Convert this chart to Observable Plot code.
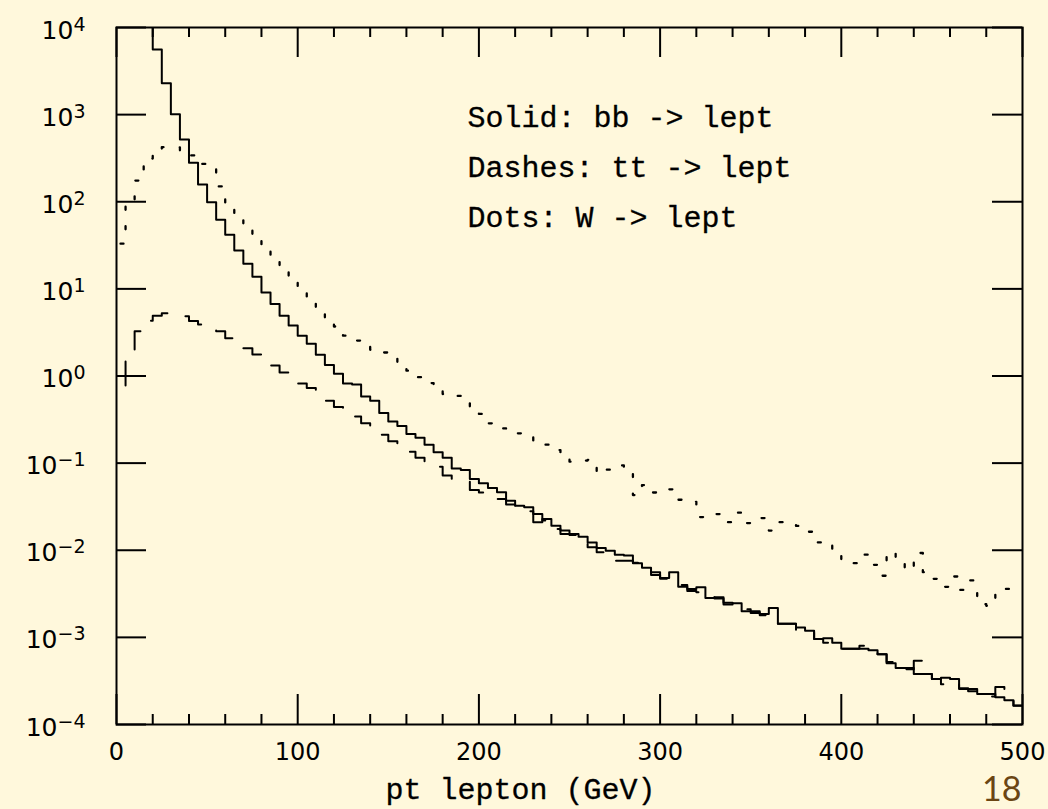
<!DOCTYPE html>
<html><head><meta charset="utf-8">
<script src="https://cdn.jsdelivr.net/npm/d3@7"></script>
<script src="https://cdn.jsdelivr.net/npm/@observablehq/plot@0.6"></script>
<style>
html,body{margin:0;padding:0;background:#fff8dc;}
svg{display:block;}
</style></head><body><div id="chart"></div>
<script>
// ---- data (5 GeV bins) ----
const binWidth = 5;

// Solid: bb -> lept (first bin is off scale, above 1e4)
const bbStart = 15;
const bbValues = [30000,5590,2290,1010,518,280,158,99,62,41.7,27.5,19.4,13.8,9.1,6.7,4.9,3.8,2.9,2.34,1.75,1.34,1.06,0.82,0.80,0.58,0.52,0.377,0.30,0.267,0.216,0.195,0.162,0.133,0.115,0.087,0.0835,0.0658,0.0586,0.0519,0.0462,0.0371,0.0325,0.0311,0.0209,0.0229,0.0191,0.0168,0.0154,0.0143,0.0123,0.0106,0.0099,0.0089,0.0087,0.0071,0.0063,0.0056,0.0048,0.0056,0.0038,0.0036,0.00376,0.00284,0.00288,0.00238,0.00246,0.0020,0.0020,0.00186,0.00217,0.00143,0.00143,0.0013,0.00119,0.00096,0.00098,0.00087,0.00074,0.00074,0.00074,0.00071,0.00064,0.000504,0.000446,0.000446,0.00038,0.00038,0.000333,0.000345,0.000333,0.000256,0.000256,0.000224,0.000224,0.000205,0.00019,0.000164];

// Dashes: tt -> lept (histogram starts at 5 GeV from a low edge value)
const ttStart = 5;
const ttLead = 0.78;
const ttValues = [2.0,3.26,4.3,4.9,5.25,5.2,4.85,4.27,3.9,3.55,3.26,2.71,2.4,2.08,1.76,1.5,1.32,1.10,0.95,0.82,0.73,0.62,0.52,0.44,0.39,0.342,0.286,0.25,0.211,0.178,0.155,0.135,0.115,0.10,0.091,0.072,0.066,0.061,0.049,0.046,0.042,0.0388,0.0334,0.030,0.028,0.026,0.022,0.0175,0.0154,0.015,0.0135,0.0108,0.0095,0.0092,0.0076,0.0076,0.0072,0.0062,0.0052,0.0047,0.0043,0.0040,0.0034,0.0033,0.0030,0.0028,0.0025,0.0024,0.0021,0.0019,0.0018,0.00158,0.00143,0.00143,0.00119,0.00119,0.00096,0.00087,0.00087,0.00074,0.00074,0.0008,0.0008,0.00064,0.00052,0.000446,0.00043,0.00054,0.00038,0.000333,0.00029,0.00031,0.00026,0.00024,0.000224,0.00021,0.00027,0.00019,0.000165];

// Dots: W -> lept
const wStart = 0;
const wValues = [33,103,175,313,398,423,420,380,340,272,235,150,86,64,48,36,27.5,21,15.8,12,9.1,7.1,5.7,4.6,3.7,2.9,2.55,2.24,2.0,1.86,1.58,1.32,1.15,0.97,0.83,0.71,0.62,0.59,0.49,0.43,0.367,0.286,0.25,0.22,0.22,0.20,0.166,0.163,0.141,0.128,0.104,0.107,0.109,0.076,0.084,0.094,0.089,0.043,0.056,0.046,0.05,0.05,0.038,0.036,0.024,0.025,0.026,0.021,0.027,0.0205,0.0234,0.0234,0.0168,0.021,0.020,0.019,0.0163,0.0123,0.0126,0.0102,0.0072,0.0071,0.0089,0.0068,0.0051,0.0096,0.0071,0.0059,0.0093,0.0056,0.0047,0.0038,0.005,0.0035,0.0045,0.0024,0.0023,0.0035,0.0036,0.0037];

// ticks and labels
const xMajor = [0,100,200,300,400,500];
const xMinor = [20,40,60,80,120,140,160,180,220,240,260,280,320,340,360,380,420,440,460,480];
const yDecades = [1e-4,1e-3,1e-2,1e-1,1,1e1,1e2,1e3,1e4];
const yExponents = ["\u22124","\u22123","\u22122","\u22121","0","1","2","3","4"];
const legendLines = ["Solid: bb -> lept","Dashes: tt -> lept","Dots: W -> lept"];
const xLabel = "pt lepton (GeV)";
const pageNumber = "18";

// ---- build step paths from bins ----
function steps(start, values, lead) {
  const pts = [];
  if (lead != null) pts.push({x: start, y: lead});
  values.forEach((v, i) => {
    const lo = start + i * binWidth;
    pts.push({x: lo, y: v}, {x: lo + binWidth, y: v});
  });
  return pts;
}
const bb = steps(bbStart, bbValues);
const tt = steps(ttStart, ttValues, ttLead);
const ww = steps(wStart, wValues);

const W = 1048, H = 809, ML = 116, MR = 26, MT = 27, MB = 85;
const FW = W - ML - MR, FH = H - MT - MB;
const major = 30, minor = 10;
const mono = "'Liberation Mono', 'Courier New', monospace";

const chart = Plot.plot({
  width: W, height: H,
  marginLeft: ML, marginRight: MR, marginTop: MT, marginBottom: MB,
  style: {background: "#fff8dc", color: "black", fontFamily: "'DejaVu Sans', sans-serif"},
  x: {domain: [0, 500], label: null},
  y: {type: "log", domain: [1e-4, 1e4], label: null},
  marks: [
    Plot.line(bb, {x: "x", y: "y", stroke: "black", strokeWidth: 2, clip: true}),
    Plot.line(tt, {x: "x", y: "y", stroke: "black", strokeWidth: 2, strokeDasharray: "24,21", clip: true}),
    Plot.line(ww, {x: "x", y: "y", stroke: "black", strokeWidth: 2.3, strokeDasharray: "3,16.5", strokeDashoffset: 15.5, clip: true}),
    // inward ticks
    Plot.tickY(yDecades, {y: d => d, insetRight: FW - major, strokeWidth: 2}),
    Plot.tickY(yDecades, {y: d => d, insetLeft: FW - major, strokeWidth: 2}),
    Plot.tickX(xMajor, {x: d => d, insetTop: FH - major, strokeWidth: 2}),
    Plot.tickX(xMajor, {x: d => d, insetBottom: FH - major, strokeWidth: 2}),
    Plot.tickX(xMinor, {x: d => d, insetTop: FH - minor, strokeWidth: 2}),
    Plot.tickX(xMinor, {x: d => d, insetBottom: FH - minor, strokeWidth: 2}),
    Plot.frame({stroke: "black", strokeWidth: 2}),
    Plot.axisX(xMajor, {tickSize: 0, tickPadding: 18, fontSize: 24, tickFormat: d => String(d), label: null}),
    Plot.axisY(yDecades, {tickSize: 0, tickPadding: 31, fontSize: 25, dy: 3,
      tickFormat: d => "10^" + yExponents[yDecades.indexOf(d)], label: null}),
    Plot.text([legendLines.join("\n")], {
      frameAnchor: "top-left", text: d => d, dx: 351, dy: 63.7, lineAnchor: "top",
      textAnchor: "start", lineHeight: 50 / 30, fontSize: 30, fontFamily: mono,
      fill: "black", stroke: "black", strokeWidth: 0.3
    }),
    Plot.text([xLabel], {
      frameAnchor: "bottom-left", text: d => d, dx: 269, dy: 64.5, lineAnchor: "middle",
      textAnchor: "start", fontSize: 30, fontFamily: mono,
      fill: "black", stroke: "black", strokeWidth: 0.3
    }),
    Plot.text([pageNumber], {
      frameAnchor: "bottom-right", text: d => d, dx: -1, dy: 66, lineAnchor: "middle",
      textAnchor: "end", fontSize: 34, fontFamily: "Lato, 'Noto Sans', sans-serif", fill: "#6b4513"
    })
  ]
});

// superscript exponents on the y tick labels
d3.select(chart).selectAll('g[aria-label="y-axis tick label"] text').each(function() {
  const t = d3.select(this);
  const txt = t.text();
  const parts = txt.split("^");
  if (parts.length === 2) {
    t.text(null);
    t.append("tspan").text(parts[0]);
    t.append("tspan").attr("dy", "-0.42em").style("font-size", "19px").text(parts[1]);
  }
});

document.getElementById("chart").appendChild(chart);
</script></body></html>
